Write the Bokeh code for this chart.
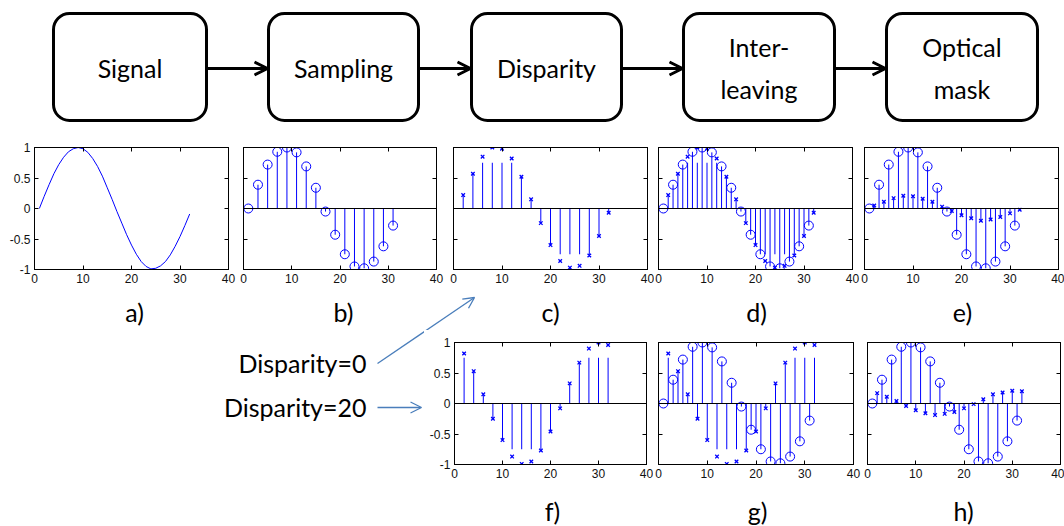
from bokeh.plotting import figure
from bokeh.layouts import row, column
from bokeh.models import Range1d, FixedTicker, LinearAxis, Span, Arrow, OpenHead
from bokeh.core.properties import value
from bokeh.embed import file_html
from bokeh.resources import INLINE

# ---------------- data ----------------
STAGES = ["Signal", "Sampling", "Disparity", "Inter-\nleaving", "Optical\nmask"]

SIGNAL_X = [1, 2, 3, 4, 5, 6, 7, 8, 9, 10, 11, 12, 13, 14, 15, 16,
            17, 18, 19, 20, 21, 22, 23, 24, 25, 26, 27, 28, 29, 30, 31, 32]
SIGNAL_Y = [0.00, 0.20, 0.39, 0.57, 0.72, 0.84, 0.93, 0.98, 1.00, 0.98, 0.92, 0.82,
            0.69, 0.53, 0.34, 0.15, -0.05, -0.24, -0.43, -0.60, -0.75, -0.87, -0.95,
            -0.99, -0.98, -0.94, -0.87, -0.76, -0.62, -0.46, -0.28, -0.09]

ODD_X = [1, 3, 5, 7, 9, 11, 13, 15, 17, 19, 21, 23, 25, 27, 29, 31]
EVEN_X = [2, 4, 6, 8, 10, 12, 14, 16, 18, 20, 22, 24, 26, 28, 30, 32]

SAMPLED = [0.00, 0.39, 0.72, 0.93, 1.00, 0.92, 0.69, 0.34,
           -0.05, -0.43, -0.75, -0.95, -0.98, -0.87, -0.62, -0.28]
DISP0 = [0.22, 0.57, 0.85, 1.00, 0.98, 0.82, 0.52, 0.15,
         -0.24, -0.60, -0.86, -0.97, -0.94, -0.77, -0.45, -0.07]
MASKED0 = [0.05, 0.11, 0.17, 0.21, 0.20, 0.16, 0.11, 0.03,
           -0.04, -0.11, -0.16, -0.20, -0.18, -0.14, -0.08, -0.02]
DISP20 = [0.82, 0.53, 0.15, -0.25, -0.60, -0.87, -0.99, -0.95,
          -0.77, -0.46, -0.08, 0.33, 0.67, 0.90, 1.00, 0.96]
MASKED20 = [0.17, 0.11, 0.04, -0.04, -0.11, -0.16, -0.19, -0.17,
            -0.14, -0.08, -0.01, 0.07, 0.15, 0.18, 0.21, 0.20]

TOP_LABELS = ["a)", "b)", "c)", "d)", "e)"]
BOTTOM_LABELS = ["f)", "g)", "h)"]
DISPARITY_TEXTS = ["Disparity=0", "Disparity=20"]

X_TICKS = [0, 10, 20, 30, 40]
Y_TICKS = [-1, -0.5, 0, 0.5, 1]
Y_TICK_LABELS = {-1: "-1", -0.5: "-0.5", 0: "0", 0.5: "0.5", 1: "1"}

# ---------------- style / layout ----------------
BLUE = "#0000ff"
ARROW_BLUE = "#4a7ebb"
TEXT_FONT = "Lato"
TICK_FONT = "Liberation Sans"
STEM_LIMIT = 0.75

BOX_LEFT = [53, 268, 471, 683, 886]
BOX_RIGHT = [206, 418, 621, 834, 1037]
BOX_TOP = 13
BOX_BOTTOM = 120
FLOW_Y = 68


def canvas(width, height, x0, x1, ytop, ybottom):
    p = figure(width=width, height=height, x_range=Range1d(x0, x1),
               y_range=Range1d(ybottom, ytop), output_backend="svg",
               toolbar_location=None, x_axis_location=None, y_axis_location=None,
               min_border_left=0, min_border_right=0, min_border_top=0, min_border_bottom=0)
    p.grid.visible = False
    p.outline_line_color = None
    p.background_fill_color = "white"
    p.border_fill_color = "white"
    return p


def style_axis(ax, ticks, show_labels, overrides=None):
    ax.ticker = FixedTicker(ticks=ticks)
    ax.axis_line_color = "black"
    ax.axis_line_width = 1
    ax.major_tick_line_color = "black"
    ax.major_tick_in = 4
    ax.major_tick_out = 0
    ax.minor_tick_line_color = None
    ax.major_label_text_font = TICK_FONT
    if show_labels:
        ax.major_label_text_color = "#111111"
        ax.major_label_text_font_size = "12px"
        ax.major_label_standoff = 4
        if overrides:
            ax.major_label_overrides = overrides
    else:
        # tick marks only: labels are not painted
        ax.major_label_text_color = None
        ax.major_label_text_font_size = "1px"
        ax.major_label_standoff = 0


def panel(width, bl, br, show_y, height=155, bt=12, bb=21):
    p = figure(width=width, height=height, x_range=Range1d(0, 40), y_range=Range1d(-1, 1),
               output_backend="svg", toolbar_location=None,
               min_border_left=bl, min_border_right=br,
               min_border_top=bt, min_border_bottom=bb)
    p.grid.visible = False
    p.outline_line_color = "black"
    p.outline_line_width = 1
    p.outline_line_alpha = 1
    p.background_fill_color = "white"
    p.border_fill_color = "white"
    style_axis(p.xaxis[0], X_TICKS, True)
    style_axis(p.yaxis[0], Y_TICKS, show_y, Y_TICK_LABELS)
    top = LinearAxis()
    style_axis(top, X_TICKS, False)
    p.add_layout(top, "above")
    right = LinearAxis()
    style_axis(right, Y_TICKS, False)
    p.add_layout(right, "right")
    return p


def stems(p, xs, ys, marker, clip=False):
    ends = [max(-STEM_LIMIT, min(STEM_LIMIT, y)) if clip else y for y in ys]
    p.segment(x0=xs, y0=[0] * len(xs), x1=xs, y1=ends, line_color=BLUE, line_width=1)
    if marker == "circle":
        p.scatter(xs, ys, marker="circle", size=9, fill_color=None,
                  line_color=BLUE, line_width=1)
    else:
        p.scatter(xs, ys, marker="x", size=5, line_color=BLUE, line_width=1.3)


def baseline(p):
    p.add_layout(Span(location=0, dimension="width", line_color="black", line_width=1))


# ---------------- flowchart ----------------
flow = canvas(1064, 135, 0, 1064, 0, 135)
flow.quad(left=BOX_LEFT, right=BOX_RIGHT, top=[BOX_TOP] * 5, bottom=[BOX_BOTTOM] * 5,
          fill_color="white", line_color="black", line_width=3, border_radius=16)
for i in range(4):
    flow.add_layout(Arrow(x_start=BOX_RIGHT[i], y_start=FLOW_Y, x_end=BOX_LEFT[i + 1] - 1,
                          y_end=FLOW_Y, line_color="black", line_width=3,
                          end=OpenHead(size=13, line_width=3, line_color="black")))
centers = [(l + r) / 2 for l, r in zip(BOX_LEFT, BOX_RIGHT)]
flow.text(x=centers, y=[FLOW_Y - 1] * 5, text=STAGES, text_font=value(TEXT_FONT),
          text_font_size="25px", text_align="center", text_baseline="middle",
          text_line_height=1.4, text_color="black")

# ---------------- top row panels ----------------
pa = panel(237, 34, 9, True)
pa.line(SIGNAL_X, SIGNAL_Y, line_color=BLUE, line_width=1)

pb = panel(208, 6, 9, False)
baseline(pb)
stems(pb, ODD_X, SAMPLED, "circle")

pc = panel(209, 8, 7, False)
baseline(pc)
stems(pc, EVEN_X, DISP0, "x", clip=True)

pd = panel(206, 4, 8, False)
baseline(pd)
stems(pd, ODD_X, SAMPLED, "circle")
stems(pd, EVEN_X, DISP0, "x", clip=True)

pe = panel(204, 4, 6, False)
baseline(pe)
stems(pe, ODD_X, SAMPLED, "circle")
stems(pe, EVEN_X, MASKED0, "x")

top_row = row(pa, pb, pc, pd, pe)

# ---------------- label strip (a-e) ----------------
ARROW0 = (377, 363, 474, 297)
strip = canvas(1064, 40, 0, 1064, 290, 330)
strip.text(x=[134, 343, 550, 756, 962], y=[311] * 5, text=TOP_LABELS,
           text_font=value(TEXT_FONT), text_font_size="25px", text_align="center",
           text_baseline="middle", text_color="black")
strip.add_layout(Arrow(x_start=ARROW0[0], y_start=ARROW0[1], x_end=ARROW0[2], y_end=ARROW0[3],
                       line_color=ARROW_BLUE, line_width=1.3,
                       end=OpenHead(size=11, line_width=1.3, line_color=ARROW_BLUE)))

# ---------------- bottom-left canvas ----------------
left = canvas(424, 196, 0, 424, 330, 526)
left.text(x=[366, 366], y=[362, 406], text=DISPARITY_TEXTS, text_font=value(TEXT_FONT),
          text_font_size="25px", text_align="right", text_baseline="middle",
          text_color="black")
left.segment(x0=[ARROW0[0]], y0=[ARROW0[1]], x1=[ARROW0[2]], y1=[ARROW0[3]],
             line_color=ARROW_BLUE, line_width=1.3)
left.add_layout(Arrow(x_start=377, y_start=407, x_end=421, y_end=407,
                      line_color=ARROW_BLUE, line_width=1.3,
                      end=OpenHead(size=11, line_width=1.3, line_color=ARROW_BLUE)))

# ---------------- bottom row panels ----------------
pf = panel(229, 30, 7, True)
baseline(pf)
stems(pf, EVEN_X, DISP20, "x", clip=True)

pg = panel(210, 5, 10, False)
baseline(pg)
stems(pg, ODD_X, SAMPLED, "circle")
stems(pg, EVEN_X, DISP20, "x", clip=True)

ph = panel(201, 4, 4, False)
baseline(ph)
stems(ph, ODD_X, SAMPLED, "circle")
stems(ph, EVEN_X, MASKED20, "x")

strip2 = canvas(640, 41, 424, 1064, 485, 526)
strip2.text(x=[552, 757, 963], y=[510] * 3, text=BOTTOM_LABELS,
            text_font=value(TEXT_FONT), text_font_size="25px", text_align="center",
            text_baseline="middle", text_color="black")

bottom = row(left, column(row(pf, pg, ph), strip2))

layout = column(flow, top_row, strip, bottom)

open("out.html", "w").write(file_html(layout, INLINE))
